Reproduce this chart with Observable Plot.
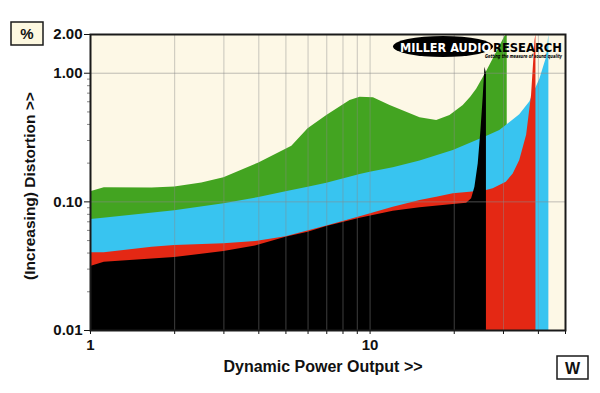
<!DOCTYPE html>
<html>
<head>
<meta charset="utf-8">
<script src="https://cdn.jsdelivr.net/npm/d3@7"></script>
<script src="https://cdn.jsdelivr.net/npm/@observablehq/plot@0.6"></script>
<style>
  html, body { margin: 0; padding: 0; background: #ffffff; }
  #chart { position: relative; width: 600px; height: 393px; }
</style>
</head>
<body>
<div id="chart"></div>
<script>
// ---- Data ----
const power_green = [1, 1.12, 1.66, 2.0, 2.5, 3.0, 4.0, 5.25, 6.0, 7.0, 8.48, 9.21, 10.28, 11.79, 15.09, 17.31, 19.31, 21.54, 22.9, 24.05, 26.07, 28.35, 30.36, 30.94];
const thd_green   = [0.120, 0.1285, 0.128, 0.1303, 0.140, 0.1537, 0.2004, 0.271, 0.37, 0.469, 0.613, 0.651, 0.644, 0.561, 0.45, 0.429, 0.47, 0.561, 0.65, 0.75, 1.02, 1.45, 1.93, 2.0];

const power_blue = [1, 1.09, 2.0, 3.0, 4.0, 5.0, 6.0, 7.0, 9.21, 10.0, 12.1, 15.09, 19.84, 26.07, 29.1, 31.5, 34.3, 37.3, 40.5, 42.8, 43.6];
const thd_blue   = [0.0729, 0.0742, 0.0853, 0.0965, 0.108, 0.1196, 0.13, 0.1395, 0.163, 0.170, 0.184, 0.208, 0.2506, 0.322, 0.358, 0.41, 0.475, 0.60, 0.90, 1.33, 2.0];

const power_red = [1, 1.12, 1.66, 2.0, 3.0, 3.9, 5.0, 7.0, 9.21, 12.1, 15.09, 17.31, 19.84, 22.76, 26.07, 27.56, 29.94, 30.7, 32.5, 34.3, 36.3, 37.8, 38.9, 39.2];
const thd_red   = [0.0403, 0.0403, 0.0444, 0.0457, 0.0472, 0.0491, 0.0535, 0.0648, 0.0765, 0.0908, 0.1024, 0.1086, 0.1154, 0.1188, 0.1225, 0.1262, 0.138, 0.142, 0.165, 0.21, 0.33, 0.67, 1.8, 2.0];

const power_black = [1, 1.12, 1.66, 2.0, 3.0, 3.89, 5.0, 6.0, 7.0, 9.21, 12.1, 15.09, 19.84, 22.15, 23.08, 23.71, 24.37, 24.92, 25.39, 25.75, 26.07];
const thd_black   = [0.0314, 0.034, 0.036, 0.0369, 0.0411, 0.0453, 0.0531, 0.058, 0.0643, 0.0745, 0.0845, 0.090, 0.0953, 0.0975, 0.1055, 0.130, 0.1975, 0.358, 0.651, 1.114, 1.0];

const xTicks = [1, 2, 3, 4, 5, 6, 7, 8, 9, 10, 20, 30, 40, 50];
const xTickLabels = [1, 10, 50];
const yMajorTicks = [0.01, 0.1, 1, 2];
const yMinorTicks = [0.02, 0.03, 0.04, 0.05, 0.06, 0.07, 0.08, 0.09, 0.2, 0.3, 0.4, 0.5, 0.6, 0.7, 0.8, 0.9];
const xGrid = [2, 3, 4, 5, 6, 7, 8, 9, 10, 20, 30, 40];
const yGrid = [0.1, 1];

const xTitle = "Dynamic Power Output >>";
const yTitle = "(Increasing) Distortion >>";

const mk = (xs, ys) => xs.map((x, i) => ({x, y: ys[i]}));
const green = mk(power_green, thd_green);
const blue = mk(power_blue, thd_blue);
const red = mk(power_red, thd_red);
const black = mk(power_black, thd_black);

const FONT = "'Liberation Sans', Arial, Helvetica, sans-serif";

const chart = Plot.plot({
  width: 600,
  height: 393,
  marginLeft: 90,
  marginRight: 35,
  marginTop: 34,
  marginBottom: 63,
  style: {background: "transparent", fontFamily: FONT, fontSize: "15px", fontWeight: "bold", color: "#111"},
  x: {type: "log", domain: [1, 50], axis: null},
  y: {type: "log", domain: [0.01, 2], axis: null},
  marks: [
    Plot.frame({fill: "#fdf8e6"}),
    Plot.areaY(green, {x: "x", y1: 0.01, y2: "y", fill: "#43a421"}),
    Plot.areaY(blue, {x: "x", y1: 0.01, y2: "y", fill: "#38c4f0"}),
    Plot.areaY(red, {x: "x", y1: 0.01, y2: "y", fill: "#e42814"}),
    Plot.areaY(black, {x: "x", y1: 0.01, y2: "y", fill: "#000000"}),
    Plot.ruleX(xGrid, {stroke: "#8a8a8a", strokeOpacity: 0.45}),
    Plot.ruleY(yGrid, {stroke: "#8a8a8a", strokeOpacity: 0.55}),
    Plot.axisY(yMinorTicks, {tickSize: 3, stroke: "#888", tickFormat: () => "", label: null}),
    Plot.axisY(yMajorTicks, {tickSize: 6, tickPadding: 2, tickFormat: d => d.toFixed(2), fontSize: 15, fontWeight: "bold", fill: "#111", label: null}),
    Plot.axisX(xTicks, {tickSize: 4, tickPadding: 5, tickFormat: d => xTickLabels.includes(d) ? String(d) : "", fontSize: 15, fontWeight: "bold", fill: "#111", label: null}),
    Plot.frame({stroke: "#1a1a1a", strokeWidth: 2})
  ]
});

document.getElementById("chart").appendChild(chart);

const svg = d3.select(chart);

// axis titles
svg.append("text")
  .attr("x", 323).attr("y", 371.5)
  .attr("text-anchor", "middle")
  .attr("font-family", FONT).attr("font-size", 16).attr("font-weight", "bold").attr("fill", "#111")
  .text(xTitle);

svg.append("text")
  .attr("transform", "translate(35,186) rotate(-90)")
  .attr("text-anchor", "middle")
  .attr("font-family", FONT).attr("font-size", 15.5).attr("font-weight", "bold").attr("fill", "#111")
  .text(yTitle);

// unit boxes
svg.append("rect").attr("x", 11).attr("y", 22).attr("width", 32).attr("height", 23)
  .attr("fill", "#fdf8e0").attr("stroke", "#1a1a1a").attr("stroke-width", 1.5);
svg.append("text").attr("x", 27).attr("y", 39).attr("text-anchor", "middle")
  .attr("font-family", FONT).attr("font-size", 15).attr("font-weight", "bold").attr("fill", "#111").text("%");

svg.append("rect").attr("x", 557).attr("y", 356).attr("width", 31).attr("height", 23)
  .attr("fill", "#ffffff").attr("stroke", "#1a1a1a").attr("stroke-width", 1.5);
svg.append("text").attr("x", 572.5).attr("y", 373.5).attr("text-anchor", "middle")
  .attr("font-family", FONT).attr("font-size", 16).attr("font-weight", "bold").attr("fill", "#111").text("W");

// logo
const NARROW = "'Liberation Sans Narrow', 'DejaVu Sans Condensed', 'Arial Narrow', sans-serif";
const logo = svg.append("g").attr("text-anchor", "start");
logo.append("ellipse").attr("cx", 443).attr("cy", 46.5).attr("rx", 50).attr("ry", 10.5).attr("fill", "#000");
logo.append("text").attr("x", 400).attr("y", 51.5).attr("text-anchor", "start")
  .attr("font-family", NARROW).attr("font-size", 13).attr("font-weight", "bold").attr("fill", "#fff")
  .attr("textLength", 91).attr("lengthAdjust", "spacingAndGlyphs").text("MILLER AUDIO");
logo.append("text").attr("x", 493).attr("y", 51.5).attr("text-anchor", "start")
  .attr("font-family", NARROW).attr("font-size", 13).attr("font-weight", "bold").attr("fill", "#000")
  .attr("textLength", 69).attr("lengthAdjust", "spacingAndGlyphs").text("RESEARCH");
logo.append("text").attr("x", 485).attr("y", 58).attr("text-anchor", "start")
  .attr("font-family", NARROW).attr("font-size", 5.5).attr("font-weight", "bold").attr("font-style", "italic").attr("fill", "#000")
  .attr("textLength", 77).attr("lengthAdjust", "spacingAndGlyphs").text("Getting the measure of sound quality");
</script>
</body>
</html>
